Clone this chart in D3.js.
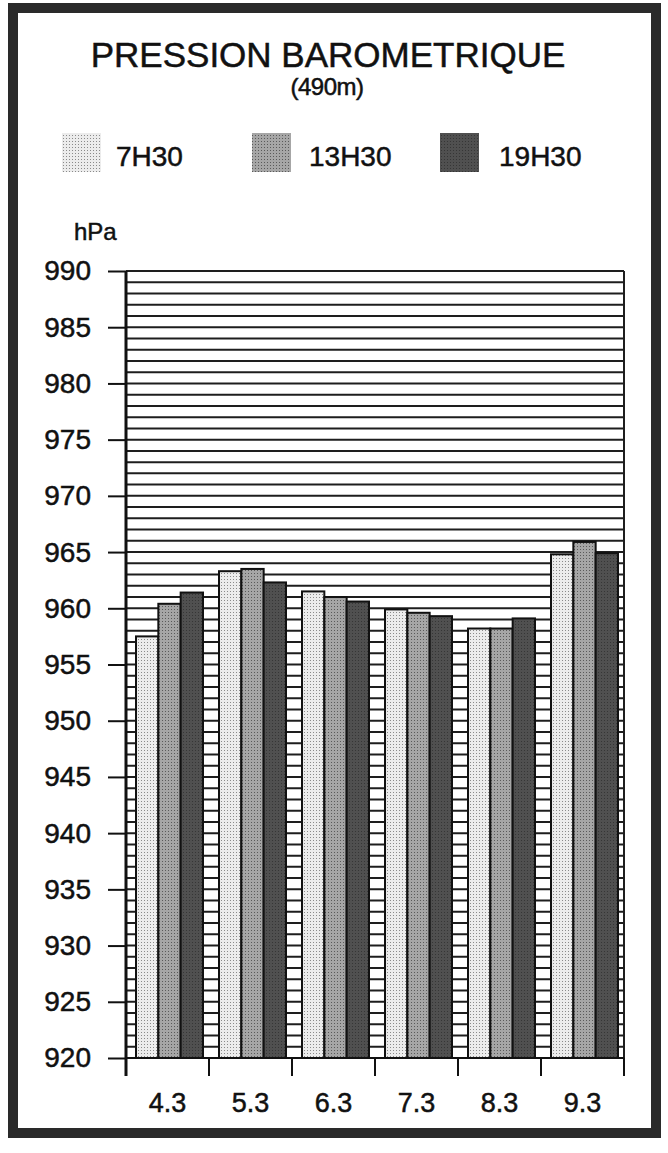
<!DOCTYPE html>
<html><head><meta charset="utf-8">
<script src="https://cdn.jsdelivr.net/npm/d3@7"></script>
<style>body{margin:0;background:#fff;} svg{display:block;} text{font-family:"Liberation Sans",Arial,Helvetica,sans-serif;fill:#111;stroke:#111;stroke-width:0.5px;}</style>
</head><body>
<script>
const categories = ["4.3","5.3","6.3","7.3","8.3","9.3"];
const seriesNames = ["7H30","13H30","19H30"];
const v7h30  = [957.5, 963.3, 961.5, 959.9, 958.2, 964.8];
const v13h30 = [960.4, 963.5, 961.0, 959.6, 958.2, 965.9];
const v19h30 = [961.4, 962.3, 960.6, 959.3, 959.1, 964.9];
const yTicks = [920,925,930,935,940,945,950,955,960,965,970,975,980,985,990];
const titleText = "PRESSION BAROMETRIQUE";
const subtitleText = "(490m)";
const unitText = "hPa";

const W = 668, H = 1153;
const svg = d3.select("body").append("svg").attr("width", W).attr("height", H);

// patterns
const defs = svg.append("defs");
function pat(id, bg, dot, step, r) {
  const p = defs.append("pattern").attr("id", id).attr("patternUnits","userSpaceOnUse")
    .attr("width", step).attr("height", step);
  p.append("rect").attr("width", step).attr("height", step).attr("fill", bg);
  p.append("rect").attr("x",0).attr("y",0).attr("width",r).attr("height",r).attr("fill",dot);
  return "url(#" + id + ")";
}
const fills = [pat("p1","#ececec","#8a8a8a",3,1), pat("p2","#a6a6a6","#5a5a5a",3,1), pat("p3","#505050","#363636",3,1)];

// outer frame
svg.append("rect").attr("x",13).attr("y",8).attr("width",643).attr("height",1125)
  .attr("fill","none").attr("stroke","#2a2a2a").attr("stroke-width",10);

// title
svg.append("text").attr("x",328).attr("y",67).attr("text-anchor","middle")
  .attr("font-size",35).text(titleText);
svg.append("text").attr("x",327).attr("y",95).attr("text-anchor","middle")
  .attr("font-size",24).attr("letter-spacing",-0.5).text(subtitleText);

// legend
const legX = [62, 252, 440], legTX = [116, 309, 499];
seriesNames.forEach((s,i)=>{
  svg.append("rect").attr("x",legX[i]).attr("y",133).attr("width",39).attr("height",39).attr("fill",fills[i]);
  svg.append("text").attr("x",legTX[i]).attr("y",166).attr("font-size",28).text(s);
});

// scales
const x0 = d3.scaleBand().domain(categories).range([126,624]).paddingInner(0).paddingOuter(0);
const x1 = d3.scaleBand().domain(seriesNames).range([10, 77]).padding(0);
const y = d3.scaleLinear().domain([920,990]).range([1058,271]);

// gridlines every 1 hPa
const grid = d3.range(921, 991, 1);
svg.append("g").selectAll("line").data(grid).join("line")
  .attr("x1",126).attr("x2",624).attr("y1",d=>y(d)).attr("y2",d=>y(d))
  .attr("stroke","#1e1e1e").attr("stroke-width",2);
// right plot border
svg.append("line").attr("x1",624).attr("x2",624).attr("y1",y(990)).attr("y2",y(920))
  .attr("stroke","#1e1e1e").attr("stroke-width",2);

// bars
const data = categories.map((c,i)=>({c, vals:[v7h30[i], v13h30[i], v19h30[i]]}));
const g = svg.append("g").selectAll("g").data(data).join("g")
  .attr("transform", d=>`translate(${x0(d.c)},0)`);
g.selectAll("rect").data(d=>d.vals.map((v,j)=>({v, s:seriesNames[j], j}))).join("rect")
  .attr("x", d=>x1(d.s)).attr("width", x1.bandwidth())
  .attr("y", d=>y(d.v)).attr("height", d=>y(920)-y(d.v))
  .attr("fill", d=>fills[d.j]).attr("stroke","#111").attr("stroke-width",2);

// y axis
const yAxis = d3.axisLeft(y).tickValues(yTicks).tickSize(18).tickPadding(17).tickFormat(d3.format("d"));
const ya = svg.append("g").attr("transform","translate(126,0)").call(yAxis);
ya.select(".domain").remove();
ya.selectAll(".tick line").attr("stroke","#111").attr("stroke-width",2);
ya.selectAll(".tick text").attr("font-size",28).attr("font-family","Liberation Sans, Arial, sans-serif").attr("fill","#111");
svg.append("line").attr("x1",126).attr("x2",126).attr("y1",y(990)).attr("y2",1076)
  .attr("stroke","#111").attr("stroke-width",3);

// x axis
const xb = svg.append("g").attr("transform",`translate(0,${y(920)})`);
xb.append("line").attr("x1",126).attr("x2",624).attr("y1",0).attr("y2",0).attr("stroke","#111").attr("stroke-width",2);
const bounds = categories.map(c=>x0(c)).concat([x0.range()[1]]);
xb.selectAll("line.tk").data(bounds).join("line").attr("class","tk")
  .attr("x1",d=>d).attr("x2",d=>d).attr("y1",0).attr("y2",18).attr("stroke","#111").attr("stroke-width",2);
xb.selectAll("text").data(categories).join("text")
  .attr("x",d=>x0(d)+x0.bandwidth()/2).attr("y",54).attr("text-anchor","middle")
  .attr("font-size",27).text(d=>d);

// unit label
svg.append("text").attr("x",74).attr("y",240).attr("font-size",24).text(unitText);
</script>
</body></html>
